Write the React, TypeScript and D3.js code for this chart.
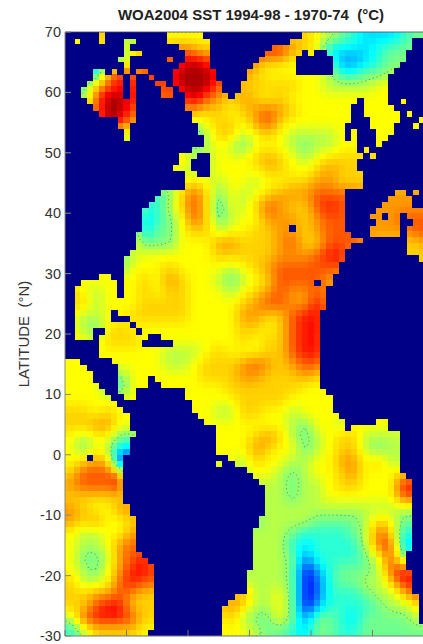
import React from "react";
import * as d3 from "d3";

const TITLE = "WOA2004 SST 1994-98 - 1970-74  (°C)";
const Y_LABEL = "LATITUDE  (°N)";
const latTicks = [70, 60, 50, 40, 30, 20, 10, 0, -10, -20, -30];
const lonTicks = [-100, -90, -80, -70, -60, -50];

// SST change, 2 degree boxes, north to south, level 0..c
const sstRows = [
"778875577777788888887654333455",
"777758889a989bbbbb987333345555",
"3335579aabcbaba988777522345566",
"4439baabbcccba9877777644556666",
"458abbaaaccca8888887" + "7666677777",
"55accbaaaaca989878777777777777",
"77acca9999988789a9877777777777",
"999cb97777678879a8777777777777",
"777766666546886787666677777777",
"777777666656765777656677777777",
"777777777866777898767888888888",
"777777777666777788778988888888",
"777777776787677677889988888888",
"7777775458a857678999aaaa999999",
"7777774468a84768a988abaa999999",
"7777773457a8567799989aaa999aaa",
"777777355788677889989aaa9999aa",
"777777555777998889a88aaa988889",
"77775677777788888999abb8888888",
"77775777877776789aaaaaa8888888",
"77777787987765678aaaa988888888",
"87677787887776789a99a988888888",
"8867778888777789aa99b988888888",
"766778888877779988abba88888888",
"765787777777778878abb988888888",
"776888777777778788abb988888888",
"777777776667877788abb988888888",
"777777776678889a989aa888888888",
"777657777778889988898888888888",
"777547777777788888877777777777",
"777777777777778888777777777777",
"887877777777668877677777777777",
"889977777777777777657767777777",
"767755777777777898656788666666",
"757633333377777987756788656666",
"789800000077776877667799786666",
"8aaa91111166666776567789777888",
"9aaab3333366666666566788777bbb",
"888888888866666666566777777aaa",
"987799999966666666666666666666",
"989778888866666566665555687555",
"76677999996666666654" + "44456a8444",
"76679a99996666666643" + "44446aa333",
"75569ab9996666666652" + "444457a555",
"76579bbaaa6666666650" + "245556abaa",
"8667abaaaa6666666650" + "1455668bbb",
"8899a988888888966750" + "14445668aa",
"88abb888888889866750" + "2444456679",
"6abbba88887778655752" + "5543555567",
"468888777777777655435544555555",
];

// ocean stretches per 1 degree latitude row, in degrees east of 100W
const oceanRows: number[][][] = [
[[5.4,6.9],[16.5,22.5],[39,60]],
[[1.6,2.4],[5.6,6.5],[9.4,11.4],[16.5,23.3],[37,56.8]],
[[9.4,10.8],[18.4,23.3],[33.9,56.8]],
[[9.4,12.6],[19.5,23.9],[32.9,38.5],[39.5,40.5],[42.5,55.9]],
[[8.4,10.8],[16.5,17],[19.5,23.9],[31.9,37.9],[43.5,55.7]],
[[9.4,10.8],[18.4,23.9],[30.5,37.9],[43.5,54.9]],
[[4.9,6.3],[7.7,8.4],[9.6,10.8],[11.4,13.5],[17.6,24.4],[29.9,37.9],[43.5,53.8]],
[[4.4,9.9],[10.4,11],[13.4,14.4],[17.6,24.4],[29.4,52.5]],
[[3.4,9.9],[10.4,11],[14.4,16.5],[17.6,25],[29,52.5]],
[[2.9,9.9],[10.4,11],[15.4,17.4],[18.4,25.9],[28.4,52.5]],
[[2.9,9.9],[10.4,11],[15.5,17],[19.5,26.5],[27.5,52.5]],
[[3.5,11],[19.5,46],[47,47.9],[48.4,52.5],[55,55.5]],
[[4.9,11.5],[19.8,46.5],[49,53.5]],
[[5.9,11.5],[20.3,46.5],[49,54],[55.6,56.2]],
[[8.7,11],[20.6,46],[49.2,54],[57.6,58.5]],
[[9,10],[21.4,45],[50,53],[57,57.5]],
[[9.5,10.5],[22,45],[47,47.5],[51,53]],
[[9.5,10.5],[22.5,45],[47,47.5],[51,52.5]],
[[22.5,45],[46,47.4],[50.5,51.5]],
[[20.6,47.4],[48.6,49.4],[50.1,50.9]],
[[19,21.4],[23.4,48.9],[49.5,50.3]],
[[18.2,20.3],[23.9,47.6]],
[[17.6,20],[23.3,47.6]],
[[20,21.5],[23.5,48.9]],
[[20,48.9]],
[[19.1,48.9]],
[[15.4,45.7],[53.9,55],[56.5,57]],
[[14.6,45.7],[52.7,55],[55.5,56.4]],
[[14,45.7],[51.6,54],[55,56.4]],
[[13,45.7],[50.7,54],[55,60]],
[[12.9,45],[49.9,51.1],[52.2,54.1],[55.2,56.3],[57,60]],
[[12.5,45],[50.2,54.9],[56.7,60]],
[[12.2,45.7],[49.9,54.9],[55.9,60]],
[[11.9,46.5],[49.2,54.9],[55.4,60]],
[[11.9,48.9],[55.4,60]],
[[11.9,46.5],[55.4,60]],
[[10.8,45.7],[55.4,60]],
[[10,45.1],[57.5,60]],
[[9.5,44.6]],
[[9.5,44.3]],
[[5.4,7],[9.5,43.8]],
[[2.4,8.4],[9.5,43.3]],
[[1.4,8.4],[10,42.7]],
[[1.4,8.4],[10,42.4]],
[[1.4,9],[10,42.2]],
[[1.4,42.2]],
[[1.4,7.9],[8.6,41.7]],
[[1.4,7.5],[10.3,41.7]],
[[1.4,10],[12,41.7]],
[[1.4,4.5],[6.5,11.1],[12.9,41.7]],
[[1.4,4.5],[6,11],[12,13],[15.4,41.7]],
[[5.9,11],[12,12.6],[17.5,41.7]],
[[5.9,11],[12,14],[14.5,41.5]],
[[5.9,41.5]],
[[0,1],[2,2.9],[7.9,41.5]],
[[0,3.5],[8.4,41.1]],
[[0,4.6],[8.4,41.5]],
[[0,4.9],[8.4,13.9],[14.5,41.5]],
[[0,5.9],[8.4,13],[16,41.9]],
[[0,6.5],[8.4,11.9],[19.3,42.4]],
[[0,7.3],[9.2,11],[19.5,43]],
[[0,8],[20.6,43]],
[[0,9],[20.9,43.5]],
[[0,10.4],[21.4,44]],
[[0,10.9],[22.8,45.4],[50.5,52.5]],
[[0,10.9],[24.3,45.7],[47,48.5],[49,52.5]],
[[0,11],[24.5,54.6]],
[[0,10.5],[25,54.6]],
[[0,10.5],[25,54.6]],
[[0,10],[25,54.6]],
[[0,9.5],[24.2,24.8],[26.5,54.6]],
[[0,9.5],[24.8,25.4],[27.5,54.6]],
[[0,9.5],[30,54.6]],
[[0,9.5],[31,55]],
[[0,9.5],[32,56]],
[[0,9.5],[32.5,56]],
[[0,9.5],[32.5,56]],
[[0,9.5],[33,56.4]],
[[0,10.3],[32.4,56.4]],
[[0,10.3],[32.4,56.4]],
[[0,11],[32,56.4]],
[[0,11],[32,56.2]],
[[0,11.5],[31,56.2]],
[[0,11.5],[30.5,56.2]],
[[0,11.9],[30.5,56.2]],
[[0,11.9],[30.5,56.2]],
[[0,12.9],[30.5,55.8]],
[[0,13.9],[30.5,55.8]],
[[0,14.4],[30.5,55.8]],
[[0,14.4],[30,56]],
[[0,14.4],[30,56]],
[[0,14.4],[29.4,56.5]],
[[0,14.4],[29.4,56.5]],
[[0,14.4],[28,57]],
[[0,14.4],[27,57]],
[[0,14.4],[26,57.6]],
[[0,14.4],[26,57.6]],
[[0,14.4],[26,57.6]],
[[0,14.4],[26,58]],
[[0,13.9],[25.4,58]],
];
const landSpecks = [[37, 32], [41, 41], [4, 70]];

const jetStops = [0, 0.125, 0.375, 0.625, 0.875, 1];
const jetColors = ["#00008f", "#0000ff", "#00ffff", "#ffff00", "#ff0000", "#800000"];
const levelSteps = [0, 7, 8, 9, 10, 11, 12];
const levelJet = [0.135, 0.625, 0.67, 0.725, 0.79, 0.86, 0.96];
const NAVY = "#000086";

const W = 423, H = 644;
const lon = d3.scaleLinear().domain([-100, -40]).range([65, 434]);
const lat = d3.scaleLinear().domain([70, -30]).range([32, 636]);
const jet = d3.scaleLinear<string>().domain(jetStops).range(jetColors).interpolate(d3.interpolateRgb);
const level = d3.scaleLinear().domain(levelSteps).range(levelJet);

const coarse = sstRows.map((r) => Array.from(r).map((c) => parseInt(c, 16)));
function sample(i: number, k: number) {
  const cj = Math.max(0, Math.min(29, (i - 1) / 2));
  const cr = Math.max(0, Math.min(49, (k - 0.5) / 2));
  const j0 = Math.floor(cj), r0 = Math.floor(cr);
  const j1 = Math.min(29, j0 + 1), r1 = Math.min(49, r0 + 1);
  const a = cj - j0, b = cr - r0;
  const top = d3.interpolateNumber(coarse[r0][j0], coarse[r0][j1])(a);
  const bottom = d3.interpolateNumber(coarse[r1][j0], coarse[r1][j1])(a);
  return d3.interpolateNumber(top, bottom)(b);
}

const NX = 60, NY = 100;
const cols = d3.range(NX), rows = d3.range(NY);
const isOcean = (i: number, k: number) =>
  oceanRows[k].some(([a, b]) => i >= a && i <= b) &&
  !landSpecks.some(([li, lk]) => li === i && lk === k);
const raw = rows.flatMap((k) => cols.map((i) => sample(i, k)));
const at = (i: number, k: number) =>
  raw[Math.max(0, Math.min(NY - 1, k)) * NX + Math.max(0, Math.min(NX - 1, i))];
const field = rows.flatMap((k) => cols.map((i) => {
  let s = 0;
  for (let a = -1; a <= 1; a++) for (let b = -1; b <= 1; b++) s += at(i + a, k + b) * (a === 0 && b === 0 ? 2 : 1);
  return s / 10;
}));
const CONTOUR_LEVEL = 5.5;
const contour = d3.contours().size([NX, NY]).thresholds([CONTOUR_LEVEL])(field)[0];
const project = d3.geoTransform({
  point(x: number, y: number) {
    (this as any).stream.point(lon(-100 + x - 0.5), lat(70 - y));
  },
});
const contourPath = d3.geoPath(project)(contour as any) || "";

export default function App() {
  const dx = lon(-99) - lon(-100);
  const dy = lat(69) - lat(70);
  return (
    <svg width={W} height={H} style={{ position: "absolute", left: 0, top: 0, display: "block", background: "#fff" }}
      fontFamily="'Liberation Sans', Arial, sans-serif">
      <defs>
        <clipPath id="plot"><rect x={65} y={32} width={W - 65} height={604} /></clipPath>
        <filter id="soft" x="0" y="0" width="100%" height="100%"><feGaussianBlur stdDeviation="0.55" /></filter>
      </defs>
      <g clipPath="url(#plot)">
        <g filter="url(#soft)" shapeRendering="crispEdges">
          <rect x={65} y={32} width={W - 65} height={604} fill={NAVY} />
          {rows.flatMap((k) => cols.filter((i) => isOcean(i, k)).map((i) => (
            <rect key={i + "-" + k} x={lon(-100 + i - 0.5)} y={lat(70 - k)} width={dx + 0.5} height={dy + 0.5}
              fill={jet(level(field[k * NX + i]))} />
          )))}
        </g>
        <path d={contourPath} fill="none" stroke="#2e8b6a" strokeWidth={0.8} strokeDasharray="1.2 2.8" />
        <g filter="url(#soft)" shapeRendering="crispEdges">
          {rows.flatMap((k) => cols.filter((i) => !isOcean(i, k)).map((i) => (
            <rect key={"l" + i + "-" + k} x={lon(-100 + i - 0.5)} y={lat(70 - k)} width={dx + 0.5} height={dy + 0.5} fill={NAVY} />
          )))}
        </g>
      </g>
      <line x1={65} x2={65} y1={32} y2={636} stroke="#8a8a78" strokeWidth={1} />
      <line x1={65} x2={W} y1={636} y2={636} stroke="#777" strokeWidth={1} />
      <line x1={65} x2={W} y1={32} y2={32} stroke="#446" strokeWidth={0.8} />
      {latTicks.map((t) => (
        <g key={t}>
          <line x1={65} x2={71} y1={lat(t)} y2={lat(t)} stroke="#8a8a78" />
          <text x={61} y={lat(t) + 5} textAnchor="end" fontSize={14.5} fill="#333">{t}</text>
        </g>
      ))}
      {lonTicks.map((t) => (
        <line key={t} x1={lon(t)} x2={lon(t)} y1={636} y2={630} stroke="#777" />
      ))}
      <text x={251} y={20} textAnchor="middle" fontSize={15} fontWeight="bold" fill="#222" xmlSpace="preserve">{TITLE}</text>
      <text transform="translate(29,334) rotate(-90)" textAnchor="middle" fontSize={15} fill="#333" xmlSpace="preserve">{Y_LABEL}</text>
    </svg>
  );
}
